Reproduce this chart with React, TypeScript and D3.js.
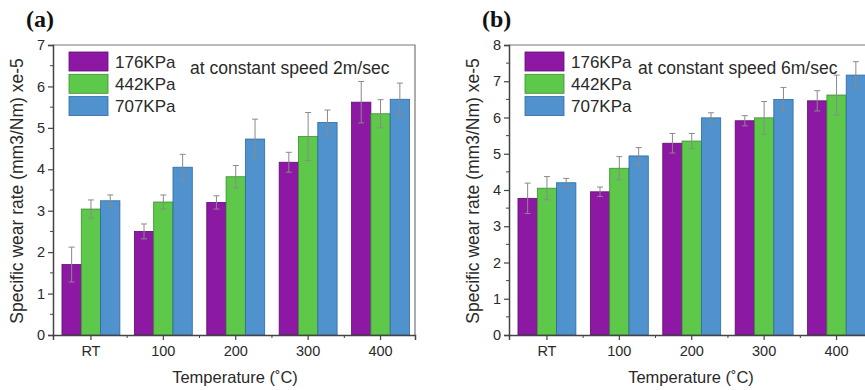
import React, { useRef, useEffect } from 'react';
import * as d3 from 'd3';

const categories = ['RT', '100', '200', '300', '400'];
const series = ['176KPa', '442KPa', '707KPa'];
const colors = ['#8c18a3', '#5ec84b', '#4f92cd'];
const strokes = ['#5e0d70', '#3a8f2c', '#2d6aa3'];

// speed 2 m/sec
const a176 = [1.7, 2.5, 3.2, 4.17, 5.62];
const a442 = [3.04, 3.21, 3.82, 4.79, 5.34];
const a707 = [3.24, 4.05, 4.73, 5.13, 5.69];
const a176Err = [0.42, 0.18, 0.16, 0.24, 0.5];
const a442Err = [0.22, 0.17, 0.27, 0.58, 0.34];
const a707Err = [0.14, 0.31, 0.48, 0.3, 0.39];

// speed 6 m/sec
const b176 = [3.77, 3.95, 5.29, 5.91, 6.46];
const b442 = [4.05, 4.6, 5.35, 5.99, 6.62];
const b707 = [4.2, 4.94, 5.99, 6.5, 7.17];
const b176Err = [0.42, 0.13, 0.27, 0.14, 0.28];
const b442Err = [0.32, 0.32, 0.21, 0.45, 0.55];
const b707Err = [0.12, 0.23, 0.14, 0.33, 0.37];

const W = 865;
const H = 390;
const SANS = 'Liberation Sans, Arial, sans-serif';

const App = () => {
  const svgRef = useRef<SVGSVGElement>(null);

  useEffect(() => {
    const svg = d3.select(svgRef.current);
    svg.selectAll('*').remove();

    const drawPanel = (
      left: number,
      yMax: number,
      vals: number[][],
      errs: number[][],
      tag: string,
      note: string
    ) => {
      const top = 45;
      const bottom = 335;
      const right = left + 362;
      const g = svg.append('g');

      const x = d3.scaleBand()
        .domain(categories)
        .range([left, right])
        .paddingInner(0.2)
        .paddingOuter(0.1)
        .align(0.62);
      const xs = d3.scaleBand().domain(series).range([0, x.bandwidth()]);
      const y = d3.scaleLinear().domain([0, yMax]).range([bottom, top]);

      // frame top/right
      g.append('path')
        .attr('d', `M${left},${top}H${right}V${bottom}`)
        .attr('fill', 'none')
        .attr('stroke', '#777')
        .attr('stroke-width', 1.2);

      // bars
      series.forEach((s, si) => {
        g.append('g')
          .selectAll('rect')
          .data(categories)
          .join('rect')
          .attr('x', c => x(c)! + xs(s)!)
          .attr('y', (c, i) => y(vals[si][i]))
          .attr('width', xs.bandwidth())
          .attr('height', (c, i) => bottom - y(vals[si][i]))
          .attr('fill', colors[si])
          .attr('stroke', strokes[si])
          .attr('stroke-width', 0.8);
      });

      // error bars
      series.forEach((s, si) => {
        categories.forEach((c, i) => {
          const cx = x(c)! + xs(s)! + xs.bandwidth() / 2;
          const lo = y(vals[si][i] - errs[si][i]);
          const hi = y(vals[si][i] + errs[si][i]);
          g.append('path')
            .attr('d', `M${cx},${lo}V${hi}M${cx - 3},${hi}H${cx + 3}M${cx - 3},${lo}H${cx + 3}`)
            .attr('stroke', '#8a8a8a')
            .attr('stroke-width', 1)
            .attr('fill', 'none');
        });
      });

      // y axis
      const yAxis = g.append('g')
        .attr('transform', `translate(${left},0)`)
        .call(d3.axisLeft(y).ticks(yMax).tickSize(5).tickPadding(3).tickFormat(d3.format('d')));
      yAxis.select('.domain').attr('stroke', '#444').attr('stroke-width', 1.5);
      yAxis.selectAll('.tick line').attr('stroke', '#444').attr('stroke-width', 1.2);
      yAxis.selectAll('.tick text')
        .attr('font-family', SANS)
        .attr('font-size', 14.5)
        .attr('fill', '#2a2a2a');
      g.append('g')
        .selectAll('line')
        .data(d3.range(0.5, yMax, 1))
        .join('line')
        .attr('x1', left - 3)
        .attr('x2', left)
        .attr('y1', d => y(d))
        .attr('y2', d => y(d))
        .attr('stroke', '#444')
        .attr('stroke-width', 1);

      // x axis
      const xAxis = g.append('g')
        .attr('transform', `translate(0,${bottom})`)
        .call(d3.axisBottom(x).tickSize(5).tickPadding(6));
      xAxis.select('.domain').attr('stroke', '#444').attr('stroke-width', 1.5);
      xAxis.selectAll('.tick line').attr('stroke', '#444').attr('stroke-width', 1.2);
      xAxis.selectAll('.tick text')
        .attr('font-family', SANS)
        .attr('font-size', 14.5)
        .attr('fill', '#2a2a2a');
      g.append('g')
        .selectAll('line')
        .data(categories.slice(1))
        .join('line')
        .attr('x1', c => x(c)! - (x.step() - x.bandwidth()) / 2)
        .attr('x2', c => x(c)! - (x.step() - x.bandwidth()) / 2)
        .attr('y1', bottom)
        .attr('y2', bottom + 3)
        .attr('stroke', '#444')
        .attr('stroke-width', 1);

      // titles
      g.append('text')
        .attr('transform', `translate(${left - 30},${(top + bottom) / 2 + 1}) rotate(-90)`)
        .attr('text-anchor', 'middle')
        .attr('font-family', SANS)
        .attr('font-size', 17.5)
        .attr('fill', '#2a2a2a')
        .text('Specific wear rate (mm3/Nm) xe-5');
      g.append('text')
        .attr('x', (left + right) / 2 + 1)
        .attr('y', 383)
        .attr('text-anchor', 'middle')
        .attr('font-family', SANS)
        .attr('font-size', 16.5)
        .attr('fill', '#2a2a2a')
        .text('Temperature (\u02DAC)');
      g.append('text')
        .attr('x', left - 27)
        .attr('y', 27)
        .attr('font-family', 'Liberation Serif, Times New Roman, serif')
        .attr('font-weight', 'bold')
        .attr('font-size', 24)
        .attr('fill', '#111')
        .text(tag);

      // legend
      series.forEach((s, si) => {
        const cy = 61.5 + si * 22.3;
        g.append('rect')
          .attr('x', left + 16)
          .attr('y', cy - 9.5)
          .attr('width', 39)
          .attr('height', 19)
          .attr('fill', colors[si])
          .attr('stroke', strokes[si])
          .attr('stroke-width', 0.8);
        g.append('text')
          .attr('x', left + 62)
          .attr('y', cy + 6)
          .attr('font-family', SANS)
          .attr('font-size', 17)
          .attr('fill', '#2a2a2a')
          .text(s);
      });
      g.append('text')
        .attr('x', left + 137 - (tag === '(b)' ? 8 : 0))
        .attr('y', 74)
        .attr('font-family', SANS)
        .attr('font-size', 17.5)
        .attr('fill', '#2a2a2a')
        .text(note);
    };

    drawPanel(53, 7, [a176, a442, a707], [a176Err, a442Err, a707Err], '(a)', 'at constant speed 2m/sec');
    drawPanel(509, 8, [b176, b442, b707], [b176Err, b442Err, b707Err], '(b)', 'at constant speed 6m/sec');
  }, []);

  return (
    <svg
      ref={svgRef}
      width={W}
      height={H}
      style={{ position: 'absolute', left: 0, top: 0, background: '#fff' }}
    />
  );
};

export default App;
